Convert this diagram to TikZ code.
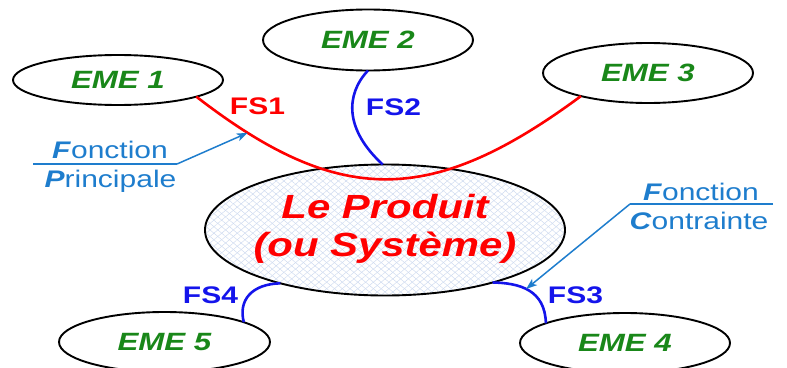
\documentclass[tikz,border=0pt]{standalone}
\usepackage{fontspec}
\setmainfont{Liberation Sans}[FakeStretch=1.25]
\usetikzlibrary{shapes.geometric,arrows.meta,patterns.meta}
\definecolor{emegreen}{RGB}{25,135,25}
\definecolor{fsred}{RGB}{255,0,0}
\definecolor{fsblue}{RGB}{20,20,235}
\definecolor{annblue}{RGB}{30,125,205}
\definecolor{hatch}{RGB}{205,218,240}
\begin{document}
\begin{tikzpicture}[x=1pt,y=-1pt,
  eme/.style={ellipse, draw=black, line width=1.9pt, inner sep=0pt, outer sep=0pt,
    minimum width=210pt, text=emegreen,
    font=\fontsize{25}{30}\selectfont\bfseries\itshape},
  prod/.style={ellipse, draw=black, line width=1.9pt, inner sep=0pt, outer sep=0pt,
    minimum width=360pt, minimum height=131pt,
    preaction={fill=white},
    preaction={pattern={Lines[angle=40,distance=5pt,line width=0.45pt]}, pattern color=hatch},
    preaction={pattern={Lines[angle=-40,distance=5pt,line width=0.45pt]}, pattern color=hatch}},
  prodtext/.style={text=fsred, align=center, inner sep=0pt,
    font=\fontsize{33.5}{38}\selectfont\bfseries\itshape},
  fslabel/.style={inner sep=0pt, font=\fontsize{24}{28}\selectfont\bfseries},
  redlink/.style={draw=fsred, line width=2.6pt},
  bluelink/.style={draw=fsblue, line width=2.6pt},
  anntext/.style={text=annblue, inner sep=0pt, anchor=base,
    font=\fontsize{24}{28}\selectfont},
  annarrow/.style={draw=annblue, line width=1.5pt,
    -{Stealth[length=11pt,width=8pt,inset=3pt]}},
  annline/.style={draw=annblue, line width=1.5pt}
]
\clip (0,0) rectangle (787,367);
\useasboundingbox (0,0) rectangle (787,367);

% ellipses
\node[eme, minimum height=50pt] (e1) at (118,80) {EME 1};
\node[eme, minimum height=61pt] (e2) at (368,40) {EME 2};
\node[eme, minimum height=60pt] (e3) at (648,73) {EME 3};
\node[eme, minimum height=60pt] (e4) at (625,343) {EME 4};
\node[eme, minimum height=60pt, minimum width=211pt] (e5) at (164.5,342) {EME 5};
\node[prod] (c) at (385,230) {};
\node[prodtext] (ct) at (385,229) {Le Produit\\(ou Système)};

% connectors
\draw[redlink] (e1.-12) .. controls (339,207) and (431,207) .. coordinate[pos=0.125] (fpt) (e3.199);
\draw[bluelink] (e2.south) .. controls (345,95) and (345,130) .. (c.92);
\draw[bluelink] (c.-26) .. controls (520,283) and (545,290) .. coordinate[pos=0.45] (fct) (e4.166);
\draw[bluelink] (c.-153) .. controls (252,284) and (238,300) .. (e5.14);

% FS labels
\node[fslabel, text=fsred] (fs1) at (257.5,106.5) {FS1};
\node[fslabel, text=fsblue] (fs2) at (393.5,107.5) {FS2};
\node[fslabel, text=fsblue] (fs3) at (575.5,295) {FS3};
\node[fslabel, text=fsblue] (fs4) at (210.5,295) {FS4};

% Fonction Principale
\node[anntext] (fp1) at (110,158) {\textbf{\textit{F}}onction};
\node[anntext] (fp2) at (110.5,187) {\textbf{\textit{P}}rincipale};
\coordinate (fpa) at (33,164);
\coordinate (fpb) at (177,164);
\draw[annline] (fpa) -- (fpb);
\draw[annarrow] (fpb) -- (fpt);

% Fonction Contrainte
\node[anntext] (fc1) at (701,200) {\textbf{\textit{F}}onction};
\node[anntext] (fc2) at (699,229) {\textbf{\textit{C}}ontrainte};
\coordinate (fca) at (773,204);
\coordinate (fcb) at (630,204);
\draw[annline] (fca) -- (fcb);
\draw[annarrow] (fcb) -- (fct);
\end{tikzpicture}
\end{document}
